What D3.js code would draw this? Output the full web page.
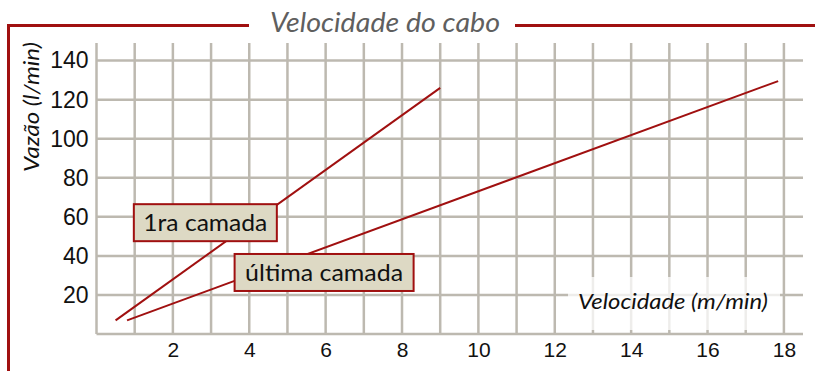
<!DOCTYPE html>
<html>
<head>
<meta charset="utf-8">
<script src="https://cdn.jsdelivr.net/npm/d3@7"></script>
<style>
  html, body { margin: 0; padding: 0; background: #fff; }
  svg { display: block; }
</style>
</head>
<body>
<div id="chart"></div>
<script>
// Dados
const xTicks = [2, 4, 6, 8, 10, 12, 14, 16, 18];
const yTicks = [20, 40, 60, 80, 100, 120, 140];
const primeiraX = [0.5, 9];
const primeiraY = [7, 126];
const ultimaX = [0.8, 17.85];
const ultimaY = [7, 129.5];
const rotulos = ["1ra camada", "última camada"];
const rotuloX = [2.85, 5.96];
const rotuloY = [57, 31.5];

const width = 815;
const height = 371;
const margin = { top: 43, right: 12, bottom: 37, left: 96.5 };
const red = "#a01010";
const textFont = "Lato, 'Open Sans', sans-serif";

const svg = d3.select("#chart")
    .append("svg")
    .attr("width", width)
    .attr("height", height);

const xScale = d3.scaleLinear()
    .domain([0, 18.5])
    .range([margin.left, width - margin.right]);

const yScale = d3.scaleLinear()
    .domain([0, 149])
    .range([height - margin.bottom, margin.top]);

// Moldura vermelha
svg.append("path")
    .attr("d", `M8.5,${height} V25.5 H249 M515,25.5 H${width}`)
    .attr("fill", "none")
    .attr("stroke", red)
    .attr("stroke-width", 3);

svg.append("text")
    .attr("x", 385)
    .attr("y", 32)
    .attr("text-anchor", "middle")
    .attr("textLength", 230)
    .attr("lengthAdjust", "spacingAndGlyphs")
    .style("font", `italic 27px ${textFont}`)
    .attr("fill", "#5f5f5f")
    .text("Velocidade do cabo");

// Grade
const grid = svg.append("g")
    .attr("stroke", "#bdb9b0")
    .attr("stroke-width", 2.5);

grid.selectAll(".vx")
    .data(d3.range(0, 19))
    .enter()
    .append("line")
    .attr("x1", d => xScale(d))
    .attr("x2", d => xScale(d))
    .attr("y1", yScale(0))
    .attr("y2", margin.top);

grid.selectAll(".hy")
    .data([0].concat(yTicks))
    .enter()
    .append("line")
    .attr("x1", xScale(0))
    .attr("x2", width - margin.right)
    .attr("y1", d => yScale(d))
    .attr("y2", d => yScale(d));

// Eixos
const yAxis = d3.axisLeft(yScale)
    .tickValues(yTicks)
    .tickSize(0)
    .tickPadding(8);

svg.append("g")
    .attr("transform", `translate(${margin.left},0)`)
    .call(yAxis)
    .call(g => g.select(".domain").remove())
    .selectAll("text")
    .attr("fill", "#111")
    .style("font-size", "23px")
    .style("font-family", "'Liberation Sans', Arial, sans-serif");

const xAxis = d3.axisBottom(xScale)
    .tickValues(xTicks)
    .tickSize(0)
    .tickPadding(8);

svg.append("g")
    .attr("transform", `translate(0,${height - margin.bottom})`)
    .call(xAxis)
    .call(g => g.select(".domain").remove())
    .selectAll("text")
    .attr("fill", "#111")
    .style("font-size", "21px")
    .style("font-family", "'Liberation Sans', Arial, sans-serif");

svg.append("text")
    .attr("transform", "translate(39,107) rotate(-90)")
    .attr("text-anchor", "middle")
    .attr("textLength", 130)
    .attr("lengthAdjust", "spacingAndGlyphs")
    .style("font", `italic 22px ${textFont}`)
    .attr("fill", "#111")
    .text("Vazão (l/min)");

// Título do eixo x com fundo branco
svg.append("rect")
    .attr("x", 568)
    .attr("y", 277)
    .attr("width", 212)
    .attr("height", 53)
    .attr("fill", "#fff")
    .attr("opacity", 0.75);

svg.append("text")
    .attr("x", 673)
    .attr("y", 309)
    .attr("text-anchor", "middle")
    .attr("textLength", 190)
    .attr("lengthAdjust", "spacingAndGlyphs")
    .style("font", `italic 21px ${textFont}`)
    .attr("fill", "#111")
    .text("Velocidade (m/min)");

// Linhas
const line = d3.line()
    .x(d => xScale(d[0]))
    .y(d => yScale(d[1]));

[[primeiraX, primeiraY], [ultimaX, ultimaY]].forEach(([xs, ys]) => {
    svg.append("path")
        .datum(d3.zip(xs, ys))
        .attr("fill", "none")
        .attr("stroke", red)
        .attr("stroke-width", 2)
        .attr("d", line);
});

// Rótulos
const boxW = [143, 179];
const boxH = 37;
const labels = svg.selectAll(".rotulo")
    .data(rotulos)
    .enter()
    .append("g")
    .attr("transform", (d, i) => `translate(${xScale(rotuloX[i])},${yScale(rotuloY[i])})`);

labels.append("rect")
    .attr("x", (d, i) => -boxW[i] / 2)
    .attr("y", -boxH / 2)
    .attr("width", (d, i) => boxW[i])
    .attr("height", boxH)
    .attr("fill", "#ddd9c4")
    .attr("stroke", red)
    .attr("stroke-width", 2);

labels.append("text")
    .attr("text-anchor", "middle")
    .attr("dy", "0.36em")
    .attr("textLength", (d, i) => [124, 158][i])
    .attr("lengthAdjust", "spacingAndGlyphs")
    .style("font", `23px ${textFont}`)
    .attr("fill", "#111")
    .text(d => d);
</script>
</body>
</html>
